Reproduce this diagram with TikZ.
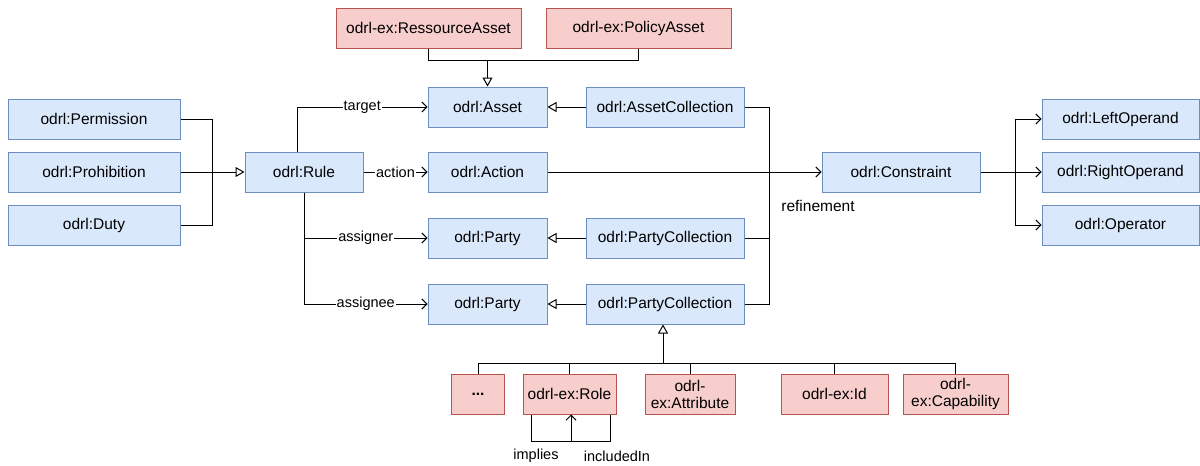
\documentclass[tikz,border=0pt]{standalone}
\usepackage{fontspec}
\setmainfont{Liberation Sans}
\usetikzlibrary{arrows.meta}
\definecolor{bfill}{HTML}{DAE8FC}
\definecolor{bdraw}{HTML}{6C8EBF}
\definecolor{rfill}{HTML}{F8CECC}
\definecolor{rdraw}{HTML}{B85450}
\begin{document}
\begin{tikzpicture}[x=1pt,y=-1pt,
  box/.style={minimum height=40pt, inner sep=0pt, align=center, font=\fontsize{15.5}{17}\selectfont, line width=1pt},
  bluebox/.style={box, draw=bdraw, fill=bfill},
  redbox/.style={box, draw=rdraw, fill=rfill},
  conn/.style={line width=1pt, black},
  gen/.style={conn, -{Triangle[open, length=9pt, width=10pt]}},
  oa/.style={conn, -{Straight Barb[length=5pt, width=10pt]}},
  lbl/.style={fill=white, inner sep=1pt, font=\fontsize{14.5}{16}\selectfont},
  plain/.style={inner sep=1pt, font=\fontsize{14.5}{16}\selectfont}
]
\useasboundingbox[fill=white] (0,0) rectangle (1200,466);

% left column
\node[bluebox, minimum width=172pt] (perm) at (94,119) {odrl:Permission};
\node[bluebox, minimum width=172pt] (prohib) at (94,172) {odrl:Prohibition};
\node[bluebox, minimum width=172pt] (duty) at (94,225) {odrl:Duty};
\node[bluebox, minimum width=118pt] (rule) at (304,172) {odrl:Rule};

% top
\node[redbox, minimum width=185pt] (ra) at (428.5,28) {odrl-ex:RessourceAsset};
\node[redbox, minimum width=185pt] (pa) at (638.5,28) {odrl-ex:PolicyAsset};

% middle
\node[bluebox, minimum width=119pt] (asset) at (487.5,107) {odrl:Asset};
\node[bluebox, minimum width=158pt] (ac) at (665,107) {odrl:AssetCollection};
\node[bluebox, minimum width=119pt] (action) at (487.5,172) {odrl:Action};
\node[bluebox, minimum width=119pt] (party1) at (487.5,238) {odrl:Party};
\node[bluebox, minimum width=158pt] (pc1) at (665,238) {odrl:PartyCollection};
\node[bluebox, minimum width=119pt] (party2) at (487.5,304) {odrl:Party};
\node[bluebox, minimum width=158pt] (pc2) at (665,304) {odrl:PartyCollection};

% right
\node[bluebox, minimum width=158pt] (constraint) at (901,172) {odrl:Constraint};
\node[bluebox, minimum width=157pt] (lo) at (1120.5,119) {odrl:LeftOperand};
\node[bluebox, minimum width=157pt] (ro) at (1120.5,172) {odrl:RightOperand};
\node[bluebox, minimum width=157pt] (op) at (1120.5,225) {odrl:Operator};

% bottom
\node[redbox, minimum width=53pt] (dots) at (478,394) {\bfseries ...};
\node[redbox, minimum width=93pt] (role) at (569.5,394) {odrl-ex:Role};
\node[redbox, minimum width=90pt] (attr) at (690,394) {odrl-\\ex:Attribute};
\node[redbox, minimum width=107pt] (idn) at (834.5,394) {odrl-ex:Id};
\node[redbox, minimum width=105pt] (cap) at (955.5,394) {odrl-\\ex:Capability};

% left generalisation
\coordinate (jl) at (212,172);
\draw[conn] (perm.east) -| (jl);
\draw[conn] (duty.east) -| (jl);
\draw[gen] (prohib.east) -- (rule.west);

% top generalisation
\coordinate (jt) at (487.5,60);
\draw[conn] (ra.south) |- (jt);
\draw[conn] (pa.south) |- (jt);
\draw[gen] (jt) -- (asset.north);

% rule relations
\draw[oa] ([xshift=-7pt]rule.north) |- node[lbl, pos=0.75] {target} (asset.west);
\draw[oa] (rule.east) -- node[lbl] {action} (action.west);
\draw[oa] (rule.south) |- node[lbl, pos=0.75] {assigner} (party1.west);
\draw[oa] (rule.south) |- node[lbl, pos=0.75] {assignee} (party2.west);

% collections
\draw[gen] (ac.west) -- (asset.east);
\draw[gen] (pc1.west) -- (party1.east);
\draw[gen] (pc2.west) -- (party2.east);

% refinement
\coordinate (rv) at (769,172);
\draw[conn] (ac.east) -| (rv);
\draw[conn] (pc1.east) -| (rv);
\draw[conn] (pc2.east) -| (rv);
\draw[oa] (action.east) -- (constraint.west);
\node[plain, font=\fontsize{15.5}{17}\selectfont] (refl) at (818,206) {refinement};

% constraint operands
\coordinate (cj) at (1015,172);
\draw[conn] (constraint.east) -- (cj);
\draw[oa] (cj) |- (lo.west);
\draw[oa] (cj) -- (ro.west);
\draw[oa] (cj) |- (op.west);

% bottom generalisation
\coordinate (bj) at (663,363);
\draw[gen] (bj) -- (bj |- pc2.south);
\draw[conn] (dots.north) |- (bj);
\draw[conn] (role.north) |- (bj);
\draw[conn] (attr.north) |- (bj);
\draw[conn] (idn.north) |- (bj);
\draw[conn] (cap.north) |- (bj);

% role self relations
\coordinate (rm) at (571,441);
\draw[conn] ([xshift=-38.5pt]role.south) |- (rm);
\draw[conn] ([xshift=40.5pt]role.south) |- (rm);
\draw[oa] (rm) -- (rm |- role.south);
\node[plain] (impl) at (536,456) {implies};
\node[plain] (incl) at (617,456) {includedIn};
\end{tikzpicture}
\end{document}
